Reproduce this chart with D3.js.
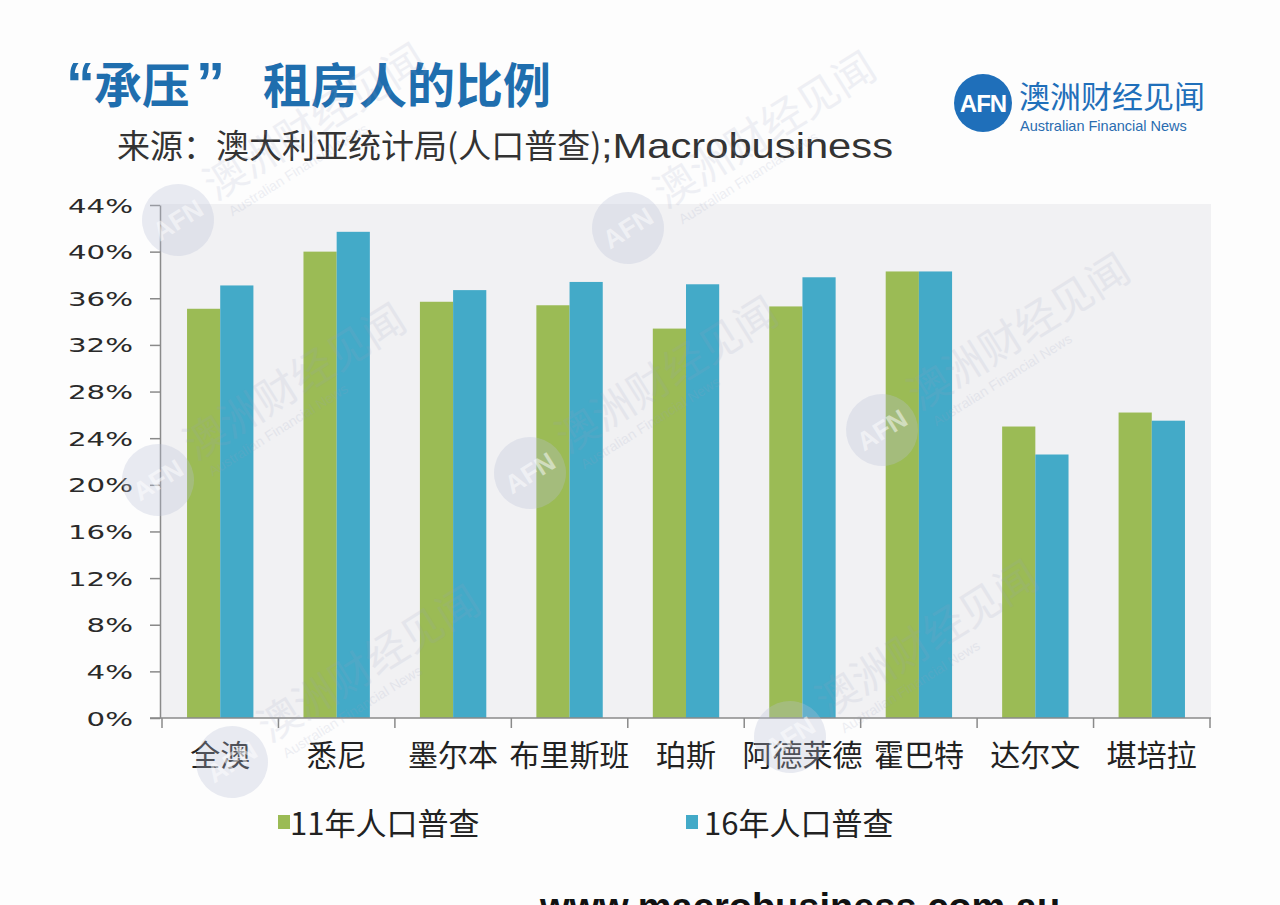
<!DOCTYPE html>
<html><head><meta charset="utf-8">
<script src="https://cdn.jsdelivr.net/npm/d3@7"></script>
<style>
html,body{margin:0;padding:0;background:#fdfdfd;}
svg{display:block;}
</style></head>
<body>
<svg id="chart" width="1280" height="905"></svg>
<script>
const categories = ["全澳","悉尼","墨尔本","布里斯班","珀斯","阿德莱德","霍巴特","达尔文","堪培拉"];
const seriesNames = ["11年人口普查","16年人口普查"];
const census2011 = [35.1, 40.0, 35.7, 35.4, 33.4, 35.3, 38.3, 25.0, 26.2];
const census2016 = [37.1, 41.7, 36.7, 37.4, 37.2, 37.8, 38.3, 22.6, 25.5];
const yTicks = [0,4,8,12,16,20,24,28,32,36,40,44];
const colors = ["#9bbb55","#43aac8"];

const svg = d3.select("#chart");
const W = 1280, H = 905;
const m = {left:160, right:1211, top:204, bottom:718};

svg.append("rect").attr("width",W).attr("height",H).attr("fill","#fdfdfd");

// plot background
svg.append("rect").attr("x",m.left).attr("y",m.top)
  .attr("width",m.right-m.left).attr("height",m.bottom-m.top).attr("fill","#f1f1f3");

const x0 = d3.scaleBand().domain(categories).range([m.left+2, m.right-1])
  .paddingInner(0.43).paddingOuter(0.215);
const x1 = d3.scaleBand().domain([0,1]).range([0, x0.bandwidth()]);
const y = d3.scaleLinear().domain([0,44]).range([m.bottom, m.top+1]);

// bars
const data = categories.map((c,i)=>({cat:c, vals:[census2011[i], census2016[i]]}));
const g = svg.append("g");
const groups = g.selectAll("g.grp").data(data).join("g")
  .attr("transform", d=>`translate(${x0(d.cat)},0)`);
groups.selectAll("rect").data(d=>d.vals.map((v,k)=>({v,k}))).join("rect")
  .attr("x", d=>x1(d.k)).attr("width", x1.bandwidth())
  .attr("y", d=>y(d.v)).attr("height", d=>m.bottom - y(d.v))
  .attr("fill", d=>colors[d.k]);

// y axis
const yAxis = svg.append("g").attr("transform",`translate(${m.left},0)`)
  .call(d3.axisLeft(y).tickValues(yTicks).tickFormat(d=>d+"%").tickSize(10).tickSizeOuter(0));
yAxis.select(".domain").attr("stroke","#8a8a8a").attr("stroke-width",1.5);
yAxis.selectAll(".tick line").attr("stroke","#8a8a8a").attr("stroke-width",1.5);
yAxis.selectAll(".tick text").attr("x",null).attr("dy",null)
  .attr("font-family","DejaVu Sans, Verdana, sans-serif").attr("font-size",19.5)
  .attr("fill","#2a2a2a").attr("text-anchor","end")
  .attr("transform","translate(-27,7) scale(1.5,1)");

// x axis baseline
svg.append("line").attr("x1",m.left-10).attr("x2",m.right).attr("y1",m.bottom).attr("y2",m.bottom)
  .attr("stroke","#8a8a8a").attr("stroke-width",1.5);
// boundary ticks
const step = x0.step();
const bStart = x0(categories[0]) - x0.paddingOuter()*step;
const bounds = d3.range(categories.length+1).map(i=>bStart + i*step);
svg.selectAll("line.xb").data(bounds).join("line").attr("class","xb")
  .attr("x1",d=>d).attr("x2",d=>d).attr("y1",m.bottom).attr("y2",m.bottom+10)
  .attr("stroke","#8a8a8a").attr("stroke-width",1.5);

// x labels
const xAxis = svg.append("g").attr("transform",`translate(0,${m.bottom})`)
  .call(d3.axisBottom(x0).tickSize(0));
xAxis.select(".domain").remove();
xAxis.selectAll(".tick text").attr("y",48).attr("dy",null)
  .attr("font-family","Noto Sans CJK SC, sans-serif").attr("font-size",30)
  .attr("fill","#222");

// legend
const legX = [278, 686];
seriesNames.forEach((s,i)=>{
  svg.append("rect").attr("x",legX[i]).attr("y",815).attr("width",12).attr("height",14).attr("fill",colors[i]);
  svg.append("text").attr("x",legX[i]+(i===0?12:18)).attr("y",835)
    .attr("font-family","Noto Sans CJK SC, sans-serif").attr("font-size",31)
    .attr("fill","#222").text(s);
});

// title
const title = svg.append("text").attr("y",103)
  .attr("font-weight","bold").attr("font-size",48).attr("fill","#1f6eae");
title.append("tspan").attr("x",66).attr("font-size",58).attr("font-family","Liberation Sans, Arial, sans-serif").text("“");
title.append("tspan").attr("x",94).attr("font-family","Noto Sans CJK SC, sans-serif").text("承压");
title.append("tspan").attr("x",196).attr("font-size",58).attr("font-family","Liberation Sans, Arial, sans-serif").text("”");
title.append("tspan").attr("x",263).attr("font-family","Noto Sans CJK SC, sans-serif").text("租房人的比例");

// subtitle
const sub = svg.append("text").attr("y",158).attr("fill","#333");
sub.append("tspan").attr("x",117).attr("font-size",33).attr("font-family","Noto Sans CJK SC, sans-serif")
  .text("来源：澳大利亚统计局(人口普查)");
sub.append("tspan").attr("x",601).attr("font-family","Liberation Sans, Arial, sans-serif")
  .attr("font-size",35)
  .attr("textLength",292).attr("lengthAdjust","spacingAndGlyphs").text(";Macrobusiness");

// logo
const logo = svg.append("g");
logo.append("circle").attr("cx",983).attr("cy",103).attr("r",29).attr("fill","#1f6fba");
logo.append("text").attr("x",983).attr("y",112).attr("text-anchor","middle")
  .attr("font-family","Liberation Sans, Arial, sans-serif").attr("font-weight","bold")
  .attr("font-size",24).attr("fill","#fff").attr("letter-spacing",-1).text("AFN");
logo.append("text").attr("x",1019).attr("y",108)
  .attr("font-family","Noto Sans CJK SC, sans-serif").attr("font-size",31)
  .attr("fill","#1f6fba").text("澳洲财经见闻");
logo.append("text").attr("x",1020).attr("y",131)
  .attr("font-family","Liberation Sans, Arial, sans-serif").attr("font-size",14.5)
  .attr("fill","#2a6cb0").text("Australian Financial News");

// bottom url (cut off at the bottom edge, as in the reference)
svg.append("text").attr("x",540).attr("y",920)
  .attr("font-family","Liberation Sans, Arial, sans-serif").attr("font-weight","bold")
  .attr("font-size",38).attr("fill","#111").text("www.macrobusiness.com.au");

// watermarks
const wm = [[178,220],[628,228],[158,480],[530,473],[882,430],[232,762],[790,737]];
const wmg = svg.append("g").attr("pointer-events","none");
wm.forEach(([cx,cy])=>{
  const w = wmg.append("g").attr("transform",`translate(${cx},${cy}) rotate(-32)`);
  w.append("circle").attr("r",36).attr("fill","#b8bfd8").attr("opacity",0.3);
  w.append("text").attr("x",0).attr("y",9).attr("text-anchor","middle")
    .attr("font-family","Liberation Sans, Arial, sans-serif").attr("font-weight","bold")
    .attr("font-size",26).attr("fill","#fff").attr("opacity",0.5).text("AFN");
  w.append("text").attr("x",42).attr("y",4)
    .attr("font-family","Noto Sans CJK SC, sans-serif").attr("font-size",42)
    .attr("fill","#9aa2bf").attr("opacity",0.14).text("澳洲财经见闻");
  w.append("text").attr("x",48).attr("y",26)
    .attr("font-family","Liberation Sans, Arial, sans-serif").attr("font-size",14)
    .attr("fill","#9aa2bf").attr("opacity",0.16).text("Australian Financial News");
});
</script>
</body></html>
